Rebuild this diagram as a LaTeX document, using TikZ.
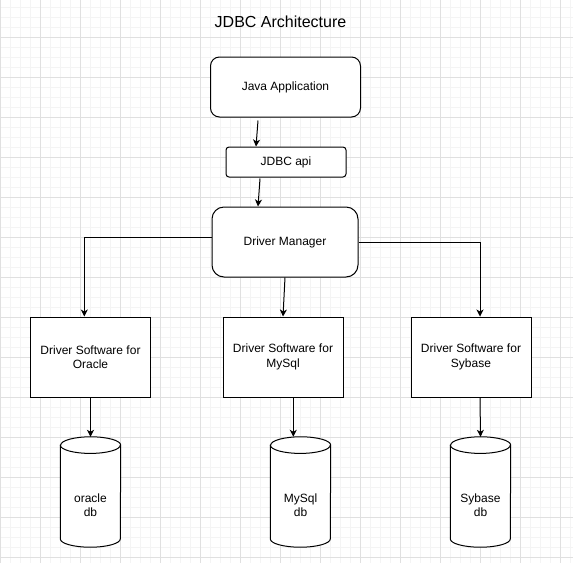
\documentclass[tikz,border=0pt]{standalone}
\usepackage{fontspec}
\setmainfont{Liberation Sans}
\usetikzlibrary{arrows.meta}
\definecolor{gridmajor}{HTML}{E0E0E0}
\definecolor{gridminor}{HTML}{F4F4F4}
\begin{document}
\begin{tikzpicture}[x=1pt,y=-1pt,
  every node/.style={font=\fontsize{12}{14.4}\selectfont, align=center, inner sep=0pt},
  box/.style={draw=black, line width=1pt, fill=white, minimum width=#1},
  softbox/.style={draw=black, line width=1pt, fill=white, minimum width=120pt, minimum height=80pt},
  dbbox/.style={minimum width=60pt, minimum height=110pt},
  conn/.style={line width=1pt, -{Stealth[length=7pt,width=7pt,inset=2pt]}},
  dbline/.style={line width=1pt, draw=black, fill=white}]
\useasboundingbox (0,0) rectangle (573,563);
% grid
\foreach \gx in {0.3,10.3,...,573}{\draw[gridminor, line width=0.6pt] (\gx,0) -- (\gx,563);}
\foreach \gy in {7.3,17.3,...,563}{\draw[gridminor, line width=0.6pt] (0,\gy) -- (573,\gy);}
\foreach \gx in {0.3,40.3,...,573}{\draw[gridmajor, line width=0.8pt] (\gx,0) -- (\gx,563);}
\foreach \gy in {37.3,77.3,...,563}{\draw[gridmajor, line width=0.8pt] (0,\gy) -- (573,\gy);}
% title
\node[font=\fontsize{16}{19}\selectfont] (title) at (280.5,21.5) {JDBC Architecture};
% top column
\node[box=150pt, minimum height=60pt, rounded corners=9pt] (java) at (285.5,87) {Java Application};
\node[box=120pt, minimum height=30pt, rounded corners=3pt] (api) at (286,162) {JDBC api};
\node[box=146pt, minimum height=70pt, rounded corners=12pt] (dm) at (285,242) {Driver Manager};
% driver software
\node[softbox] (sw1) at (90.5,357) {Driver Software for\\Oracle};
\node[softbox] (sw2) at (283,357) {Driver Software for\\MySql};
\node[softbox] (sw3) at (471,357) {Driver Software for\\Sybase};
% databases
\node[dbbox] (db1) at (90.5,492) {};
\node[dbbox] (db2) at (300.5,492) {};
\node[dbbox] (db3) at (480.5,492) {};
\foreach \n in {db1,db2,db3}{
  \draw[dbline] ([yshift=-8.3pt]\n.north west) -- ([yshift=8.3pt]\n.south west)
    arc[start angle=180,end angle=360,x radius=30pt,y radius=8.3pt]
    -- ([yshift=-8.3pt]\n.north east)
    arc[start angle=0,end angle=180,x radius=30pt,y radius=8.3pt] -- cycle;
  \draw[line width=1pt] ([yshift=-8.3pt]\n.north west)
    arc[start angle=180,end angle=360,x radius=30pt,y radius=8.3pt];
}
\node (db1t) at ([yshift=-13pt]db1.center) {oracle\\db};
\node (db2t) at ([yshift=-13pt]db2.center) {MySql\\db};
\node (db3t) at ([yshift=-13pt]db3.center) {Sybase\\db};
% connectors
\draw[conn] ([xshift=-27.5pt,yshift=-3pt]java.south) -- ([xshift=-30pt]api.north);
\draw[conn] ([xshift=-26pt,yshift=-1pt]api.south) -- ([xshift=-27pt]dm.north);
\draw[conn] (dm.south) -- (sw2.north);
\draw[conn] ([yshift=4.7pt]dm.west) -| ([xshift=-6.2pt]sw1.north);
\draw[conn] (dm.east) -| ([xshift=9pt]sw3.north);
\draw[conn] (sw1.south) -- (db1.north);
\draw[conn] ([xshift=10.3pt]sw2.south) -- ([xshift=-7.2pt]db2.north);
\draw[conn] ([xshift=9pt]sw3.south) -- (db3.north);
\end{tikzpicture}
\end{document}
